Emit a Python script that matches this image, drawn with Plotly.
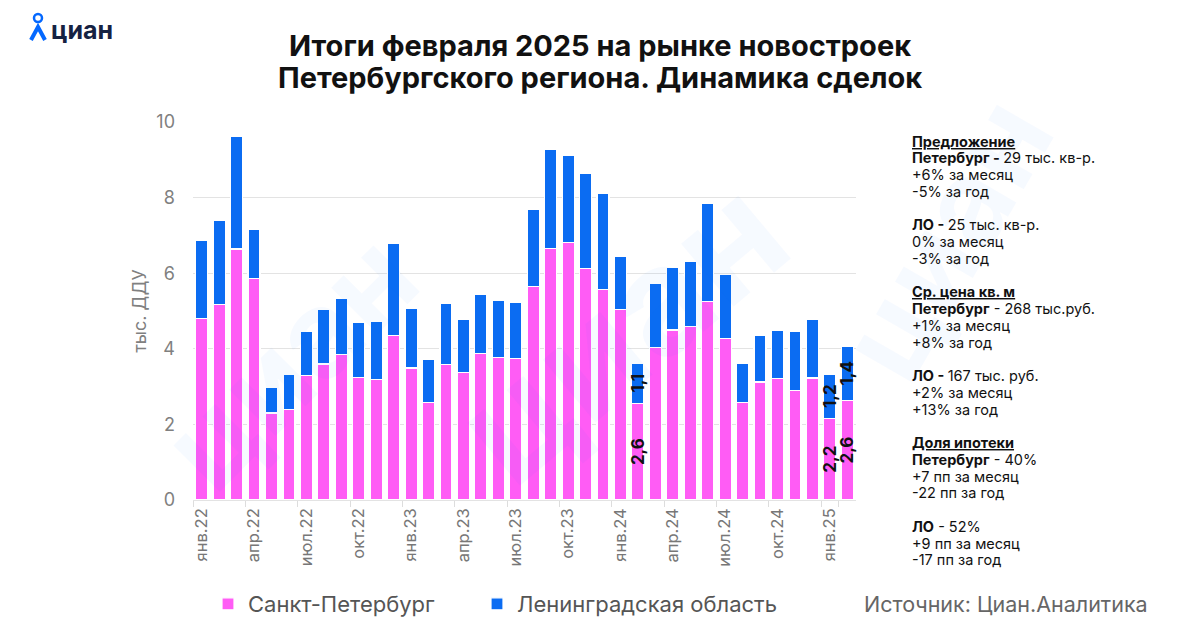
import plotly.graph_objects as go

# ---- data ----
month_names = ["янв", "фев", "мар", "апр", "май", "июн", "июл", "авг", "сен", "окт", "ноя", "дек"]
years = ["22", "23", "24", "25"]
months = [f"{m}.{y}" for y in years for m in month_names][:38]  # янв.22 .. фев.25

spb = [4.81, 5.18, 6.64, 5.85, 2.30, 2.39, 3.29, 3.60, 3.85, 3.25, 3.19, 4.36,
       3.49, 2.58, 3.58, 3.38, 3.87, 3.77, 3.75, 5.65, 6.66, 6.81, 6.12, 5.56,
       5.03, 2.56, 4.04, 4.50, 4.58, 5.25, 4.27, 2.58, 3.12, 3.21, 2.90, 3.23,
       2.16, 2.64]
lo = [2.06, 2.23, 2.99, 1.32, 0.69, 0.93, 1.18, 1.45, 1.48, 1.44, 1.54, 2.42,
      1.59, 1.14, 1.61, 1.40, 1.56, 1.52, 1.47, 2.05, 2.61, 2.31, 2.53, 2.54,
      1.41, 1.06, 1.69, 1.66, 1.73, 2.59, 1.69, 1.03, 1.24, 1.29, 1.56, 1.56,
      1.17, 1.42]
labelled_months = ["фев.24", "янв.25", "фев.25"]
tick_months = months[::3]

series_names = ["Санкт-Петербург", "Ленинградская область"]
colors = ["#FF5CF5", "#0B6CF2"]

title_lines = ["Итоги февраля 2025 на рынке новостроек",
               "Петербургского региона. Динамика сделок"]

side_text = [
    "<b><u>Предложение</u></b>",
    "<b>Петербург - </b>29 тыс. кв-р.",
    "+6% за месяц",
    "-5% за год",
    "",
    "<b>ЛО - </b>25 тыс. кв-р.",
    "0% за месяц",
    "-3% за год",
    "",
    "<b><u>Ср. цена кв. м</u></b>",
    "<b>Петербург</b> - 268 тыс.руб.",
    "+1% за месяц",
    "+8% за год",
    "",
    "<b>ЛО - </b>167 тыс. руб.",
    "+2% за месяц",
    "+13% за год",
    "",
    "<b><u>Доля ипотеки</u></b>",
    "<b>Петербург</b> - 40%",
    "+7 пп за месяц",
    "-22 пп за год",
    "",
    "<b>ЛО</b> - 52%",
    "+9 пп за месяц",
    "-17 пп за год",
]


def fmt(v):
    return f"{v:.1f}".replace(".", ",")


def labels(vals):
    return [fmt(v) if m in labelled_months else "" for m, v in zip(months, vals)]


FONT = "Inter"
OFF = 8  # page body margin in the browser
PL, PR, PT, PB = 193, 856, 122, 500  # plot area in screenshot pixels


def PX(px):
    return (px - PL) / (PR - PL)


def PY(py):
    return (PB - py) / (PB - PT)


fig = go.Figure()
for name, vals, col, leg in zip(series_names, [spb, lo], colors, ["legend", "legend2"]):
    fig.add_trace(go.Bar(
        x=months, y=vals, name=name, legend=leg,
        marker=dict(color=col, line=dict(color="white", width=1.2)),
        text=labels(vals), textposition="inside", insidetextanchor="middle",
        textangle=-90, textfont=dict(family=FONT, size=17, color="#111", weight=700),
        cliponaxis=False, hoverinfo="x+y",
    ))

# watermarks (faint logo text)
wm = "rgba(11,108,242,0.035)"
for (x, y, s, a) in [(1085, 70, 120, -60), (620, 330, 150, -40), (130, 520, 120, -45)]:
    fig.add_annotation(xref="paper", yref="paper", x=PX(x), y=PY(y),
                       text="циан", showarrow=False, textangle=a,
                       font=dict(family=FONT, size=s, color=wm, weight=700))

legend_style = dict(orientation="h", xref="container", yref="container",
                    y=1 - (604 - OFF) / 630, xanchor="left", yanchor="middle",
                    font=dict(family=FONT, size=22, color="#555"), itemwidth=30)

fig.update_layout(
    width=1200, height=630,
    margin=dict(l=PL - OFF, r=1200 - (PR - OFF), t=PT - OFF, b=630 - (PB - OFF)),
    paper_bgcolor="white", plot_bgcolor="white",
    barmode="stack", bargap=0.31,
    font=dict(family=FONT, color="#666"),
    uniformtext=dict(mode="show", minsize=17),
    showlegend=True,
    legend=dict(x=(208 - OFF) / 1200, **legend_style),
    legend2=dict(x=(477 - OFF) / 1200, **legend_style),
)
fig.update_xaxes(
    type="category", tickmode="array", tickvals=tick_months, ticktext=tick_months,
    tickangle=-90, tickfont=dict(family=FONT, size=16.5, color="#777"),
    tickson="boundaries", ticks="outside", ticklen=6, tickcolor="#ddd",
    ticklabelstandoff=4,
    showgrid=False, showline=False, zeroline=False,
)
fig.update_yaxes(
    range=[0, 10], dtick=2, showgrid=True, gridcolor="#e3e3e3", gridwidth=1,
    zeroline=True, zerolinecolor="#e3e3e3", zerolinewidth=1,
    tickfont=dict(family=FONT, size=18, color="#808080"), ticklabelstandoff=17,
    title=dict(text="тыс. ДДУ", font=dict(family=FONT, size=18, color="#808080"), standoff=5),
)

# title
for line, ty in zip(title_lines, [45, 77]):
    fig.add_annotation(xref="paper", yref="paper", x=PX(600), y=PY(ty),
                       xanchor="center", yanchor="middle", showarrow=False,
                       text=f"<b>{line}</b>",
                       font=dict(family=FONT, size=29, color="#111"))

# right-hand text panel, one line per annotation
for i, line in enumerate(side_text):
    if not line:
        continue
    fig.add_annotation(xref="paper", yref="paper", x=PX(910), y=PY(141 + i * 16.75),
                       xanchor="left", yanchor="middle", align="left", showarrow=False,
                       text=line, font=dict(family=FONT, size=14.5, color="#111"))

# source
fig.add_annotation(xref="paper", yref="paper", x=PX(1150), y=PY(604),
                   xanchor="right", yanchor="middle", showarrow=False,
                   text="Источник: Циан.Аналитика",
                   font=dict(family=FONT, size=21.5, color="#666"))

# logo
fig.add_annotation(xref="paper", yref="paper", x=PX(49), y=PY(30),
                   xanchor="left", yanchor="middle", showarrow=False,
                   text="<b>циан</b>", font=dict(family=FONT, size=25, color="#152242"))
fig.add_shape(type="circle", xref="paper", yref="paper",
              x0=PX(34), x1=PX(42), y0=PY(22), y1=PY(14),
              line=dict(color="#0468FF", width=2.5))
fig.add_shape(type="path", xref="paper", yref="paper",
              path=f"M {PX(31)} {PY(40)} L {PX(38)} {PY(27)} L {PX(45)} {PY(40)}",
              line=dict(color="#0468FF", width=4))

fig.write_html("out.html")
